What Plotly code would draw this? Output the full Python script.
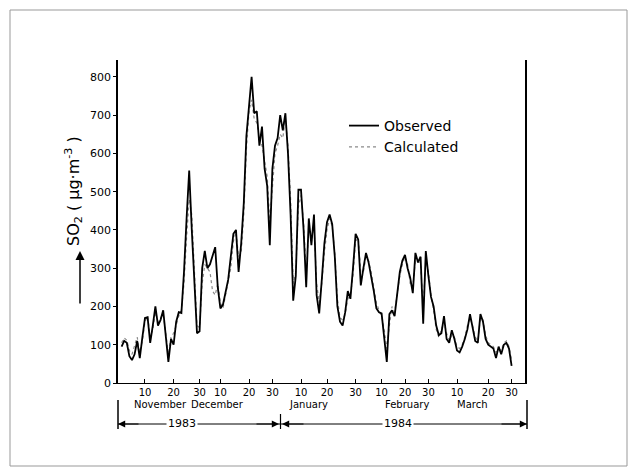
import plotly.graph_objects as go

# Day index 0 = 1 Nov 1983 ... 150 = 30 Mar 1984 (daily values)
observed = [95, 110, 105, 70, 60, 75, 110, 65, 120, 170,
            172, 105, 150, 200, 150, 165, 190, 120, 55, 115,
            100, 160, 185, 183, 290, 430, 555, 400, 250, 130,
            135, 300, 345, 300, 310, 330, 355, 250, 195, 205,
            240, 270, 330, 390, 400, 290, 365, 470, 645, 730,
            800, 705, 710, 620, 670, 560, 515, 360, 560, 620,
            640, 700, 660, 705, 600, 440, 215, 280, 505, 505,
            400, 250, 430, 360, 440, 230, 182, 270, 365, 420,
            440, 415, 330, 200, 160, 150, 185, 240, 220, 300,
            390, 375, 255, 300, 340, 315, 280, 240, 195, 185,
            182, 120, 55, 180, 190, 175, 240, 290, 320, 335,
            300, 275, 235, 340, 315, 330, 155, 345, 280, 225,
            200, 150, 125, 130, 175, 115, 105, 138, 115, 85,
            80, 95, 115, 140, 180, 140, 110, 105, 180, 160,
            115, 100, 95, 90, 65, 95, 75, 100, 105, 90,
            45]

calculated = [105, 118, 112, 85, 75, 95, 120, 80, 110, 160,
              175, 120, 140, 185, 160, 170, 180, 130, 75, 120,
              130, 150, 175, 190, 260, 380, 480, 440, 280, 150,
              145, 260, 310, 300, 290, 240, 230, 260, 210, 195,
              230, 260, 300, 370, 395, 330, 340, 440, 610, 710,
              740, 690, 680, 640, 620, 580, 540, 420, 520, 600,
              620, 650, 640, 690, 620, 480, 260, 290, 460, 490,
              420, 290, 400, 380, 410, 260, 210, 260, 340, 400,
              430, 410, 340, 220, 170, 165, 180, 220, 230, 280,
              370, 380, 290, 290, 330, 320, 290, 250, 210, 190,
              175, 140, 90, 150, 200, 185, 230, 280, 310, 330,
              310, 260, 250, 320, 320, 310, 200, 320, 290, 230,
              190, 140, 120, 140, 160, 130, 110, 125, 120, 95,
              90, 100, 120, 150, 170, 150, 120, 110, 170, 165,
              125, 105, 100, 95, 80, 90, 85, 105, 110, 95,
              60]

days = list(range(len(observed)))

tick_days = [9, 20, 30, 38, 49, 58, 69, 79, 90, 100, 109, 118, 129, 141, 150]
tick_text = ["10", "20", "30", "10", "20", "30", "10", "20", "30",
             "10", "20", "30", "10", "20", "30"]

months = ["November", "December", "January", "February", "March"]
month_pos = [14.8, 36.7, 71.7, 109.8, 134.8]
years = ["1983", "1984"]
y_ticks = [0, 100, 200, 300, 400, 500, 600, 700, 800]

FONT = "DejaVu Sans"

fig = go.Figure()
fig.add_trace(go.Scatter(x=days, y=calculated, mode="lines", name="Calculated",
                         line=dict(color="#8a8a8a", width=1.2, dash="dot")))
fig.add_trace(go.Scatter(x=days, y=observed, mode="lines", name="Observed",
                         line=dict(color="black", width=1.8)))

# page places the figure 8px in from the top-left corner
OFF = 8
FW, FH = 637 - OFF, 476 - OFF
L, R, T, B = 118 - OFF, 525 - OFF, 60 - OFF, 383 - OFF
W, H = R - L, B - T


def px(x):
    return (x - OFF - L) / W


def py(y):
    return (B - (y - OFF)) / H


anns = []
for m, p in zip(months, month_pos):
    anns.append(dict(x=p, y=py(405), xref="x", yref="paper", text=m,
                     xanchor="center", yanchor="middle",
                     showarrow=False, font=dict(size=10, color="black", family=FONT)))
anns.append(dict(x=px(182), y=py(424), xref="paper", yref="paper", text=years[0],
                 xanchor="center", yanchor="middle",
                 showarrow=False, bgcolor="white", font=dict(size=11, color="black", family=FONT)))
anns.append(dict(x=px(398), y=py(424), xref="paper", yref="paper", text=years[1],
                 xanchor="center", yanchor="middle",
                 showarrow=False, bgcolor="white", font=dict(size=11, color="black", family=FONT)))

# year arrows
for tip, tail in [(118, 140), (279, 255), (282, 305), (527, 500)]:
    anns.append(dict(x=px(tip), y=py(424), xref="paper", yref="paper", text="",
                     showarrow=True, ax=tail - tip, ay=0, arrowhead=2, arrowsize=1.2,
                     arrowwidth=1.2, arrowcolor="black"))

# y axis title and arrow
anns.append(dict(x=px(73), y=py(191), xref="paper", yref="paper",
                 xanchor="center", yanchor="middle",
                 text="SO<sub>2</sub> ( μg·m<sup>-3</sup> )", textangle=-90, showarrow=False,
                 font=dict(size=16, color="black", family=FONT)))
anns.append(dict(x=px(80), y=py(251), xref="paper", yref="paper", text="",
                 showarrow=True, ax=0, ay=54, arrowhead=2, arrowsize=1.2,
                 arrowwidth=1.5, arrowcolor="black"))

shapes = [
    # outer frame
    dict(type="rect", xref="paper", yref="paper", x0=px(10), x1=px(627), y0=py(466), y1=py(10),
         line=dict(color="#999999", width=1), layer="below"),
    # year line
    dict(type="line", xref="paper", yref="paper", x0=px(118), x1=px(527), y0=py(424), y1=py(424),
         line=dict(color="black", width=1), layer="below"),
    # vertical bars
    dict(type="line", xref="paper", yref="paper", x0=px(118), x1=px(118), y0=py(400), y1=py(429),
         line=dict(color="black", width=1.5)),
    dict(type="line", xref="paper", yref="paper", x0=px(280.5), x1=px(280.5), y0=py(414), y1=py(429),
         line=dict(color="black", width=1.2)),
    dict(type="line", xref="paper", yref="paper", x0=px(527), x1=px(527), y0=py(400), y1=py(429),
         line=dict(color="black", width=1.5)),
]

fig.update_layout(
    width=FW, height=FH,
    margin=dict(l=L, r=FW - R, t=T, b=FH - B, pad=0),
    paper_bgcolor="white", plot_bgcolor="white",
    font=dict(family=FONT, color="black"),
    showlegend=True,
    legend=dict(x=px(344), y=py(110), xanchor="left", yanchor="top",
                traceorder="reversed", bgcolor="rgba(0,0,0,0)",
                font=dict(size=14, color="black", family=FONT)),
    annotations=anns,
    shapes=shapes,
)
fig.update_xaxes(range=[-1.38, 155.15], tickvals=tick_days, ticktext=tick_text,
                 ticks="inside", ticklen=4, tickcolor="black", showgrid=False, zeroline=False,
                 showline=True, linecolor="black", linewidth=1, ticklabelstandoff=0,
                 tickfont=dict(size=10, color="black", family=FONT))
fig.update_yaxes(range=[0, 844], tickvals=y_ticks, ticks="outside", ticklen=3,
                 tickcolor="black", showgrid=False, zeroline=False,
                 showline=True, linecolor="black", linewidth=1.5, mirror=True,
                 tickfont=dict(size=11, color="black", family=FONT))

fig.write_html("out.html")
